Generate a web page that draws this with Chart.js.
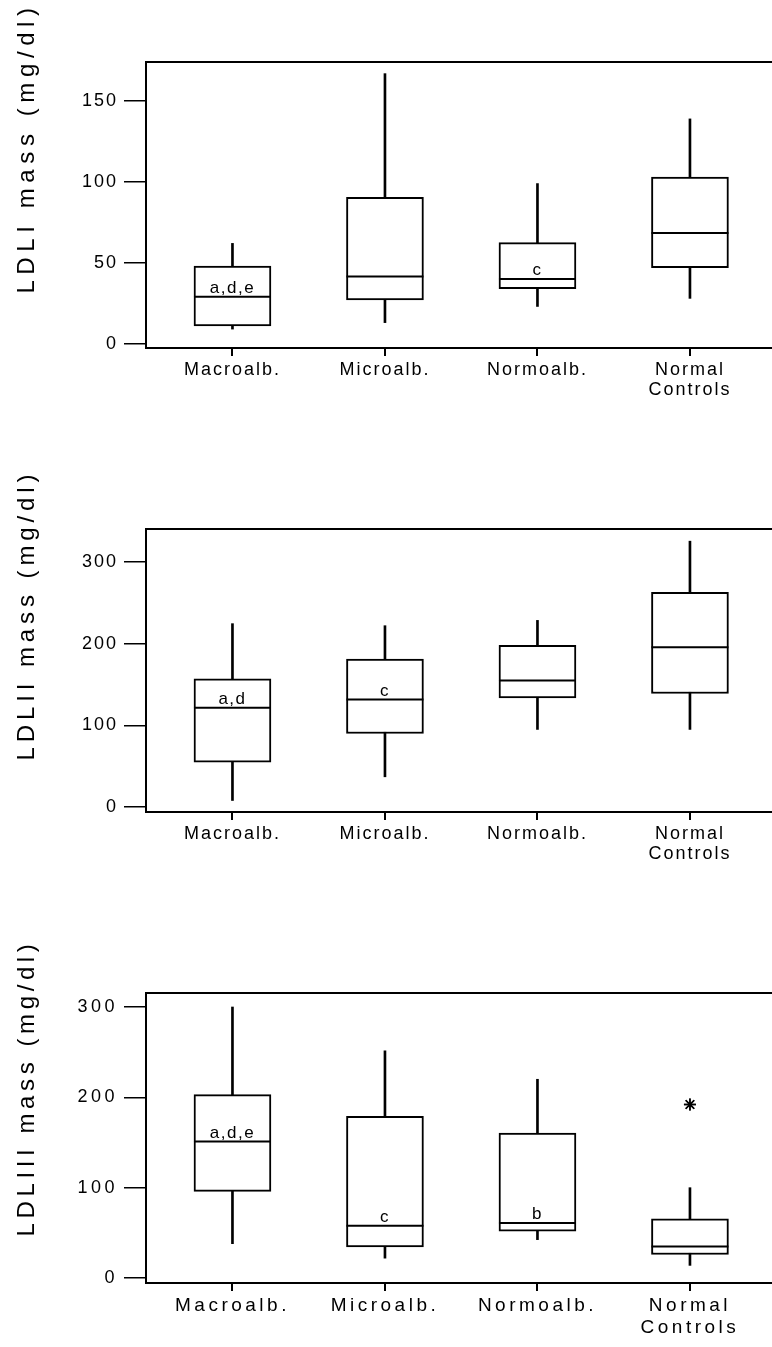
<!DOCTYPE html>
<html>
<head>
<meta charset="utf-8">
<script src="https://cdn.jsdelivr.net/npm/chart.js@4.4.1/dist/chart.umd.min.js"></script>
<style>
html,body{margin:0;padding:0;background:#fff;width:772px;height:1347px;overflow:hidden}
canvas{position:absolute;left:0;display:block}
</style>
</head>
<body>
<canvas id="c1" width="772" height="420" style="top:0px"></canvas>
<canvas id="c2" width="772" height="440" style="top:440px"></canvas>
<canvas id="c3" width="772" height="447" style="top:900px"></canvas>
<script>
// ---------- data ----------
const categories = ['Macroalb.', 'Microalb.', 'Normoalb.', ['Normal', 'Controls']];

const ldl1Min    = [9, 13, 23, 28];
const ldl1Q1     = [11, 27, 34, 47];
const ldl1Median = [29, 41.5, 40, 68.5];
const ldl1Q3     = [48, 90.5, 62.5, 103];
const ldl1Max    = [62, 167, 99, 139];
const ldl1Notes  = ['a,d,e', '', 'c', ''];
const ldl1Ticks  = [0, 50, 100, 150];

const ldl2Min    = [8, 37, 95, 95];
const ldl2Q1     = [55, 90, 133.5, 139];
const ldl2Median = [121.5, 131.5, 155, 195.5];
const ldl2Q3     = [157, 181, 198, 263];
const ldl2Max    = [224.5, 222, 228.5, 325.5];
const ldl2Notes  = ['a,d', 'c', '', ''];
const ldl2Ticks  = [0, 100, 200, 300];

const ldl3Min     = [38, 22, 42.5, 14];
const ldl3Q1      = [96, 34.5, 52, 26];
const ldl3Median  = [151, 58, 61, 35];
const ldl3Q3      = [203, 179, 160.5, 65.5];
const ldl3Max     = [300, 251.5, 220, 100];
const ldl3Notes   = ['a,d,e', 'c', 'b', ''];
const ldl3Outlier = [null, null, null, 192];
const ldl3Ticks   = [0, 100, 200, 300];

const yTitles = ['LDLI mass (mg/dl)', 'LDLII mass (mg/dl)', 'LDLIII mass (mg/dl)'];

// ---------- helpers ----------
const FONT = '"Liberation Sans", Arial, Helvetica, sans-serif';

function drawStar(ctx, x, y, r) {
  if (Chart.helpers && Chart.helpers.drawPoint) {
    Chart.helpers.drawPoint(ctx, {pointStyle: 'star', radius: r, borderWidth: 1.5, rotation: 0}, x, y);
    ctx.stroke();
    return;
  }
  ctx.beginPath();
  for (let k = 0; k < 4; k++) {
    const a = k * Math.PI / 4;
    ctx.moveTo(x - r * Math.cos(a), y - r * Math.sin(a));
    ctx.lineTo(x + r * Math.cos(a), y + r * Math.sin(a));
  }
  ctx.stroke();
}

function makePanel(id, o) {
  const xs = categories.map((_, i) => i);
  const boxData = xs.map(i => ({x: i, y: [o.q1[i], o.q3[i]]}));
  const whiskerData = xs.map(i => ({x: i, y: [o.min[i], o.max[i]]}));
  const datasets = [
    {type: 'bar', data: boxData, backgroundColor: '#fff', borderColor: '#000',
     borderWidth: 2, borderSkipped: false, barThickness: 77, grouped: false, order: 1},
    {type: 'bar', data: whiskerData, backgroundColor: '#000', borderWidth: 0,
     barThickness: 2, grouped: false, order: 2}
  ];

  const boxPlugin = {
    id: 'boxExtras',
    beforeLayout(chart) { chart.ctx.letterSpacing = o.tickSpacing; },
    beforeDraw(chart) { chart.ctx.letterSpacing = o.tickSpacing; },
    afterDatasetsDraw(chart) {
      const ctx = chart.ctx, ys = chart.scales.y, xsc = chart.scales.x;
      const meta = chart.getDatasetMeta(0);
      ctx.save();
      ctx.strokeStyle = '#000';
      ctx.fillStyle = '#000';
      meta.data.forEach((bar, i) => {
        const y = ys.getPixelForValue(o.median[i]);
        const half = bar.width / 2;
        ctx.lineWidth = 2;
        ctx.beginPath();
        ctx.moveTo(bar.x - half, y);
        ctx.lineTo(bar.x + half, y);
        ctx.stroke();
        if (o.notes[i]) {
          ctx.letterSpacing = '1.5px';
          ctx.font = '17px ' + FONT;
          ctx.textAlign = 'center';
          ctx.textBaseline = 'alphabetic';
          ctx.fillText(o.notes[i], bar.x, y - 4);
        }
      });
      if (o.outlier) {
        ctx.lineWidth = 1.5;
        o.outlier.forEach((v, i) => {
          if (v === null) return;
          drawStar(ctx, xsc.getPixelForValue(i), ys.getPixelForValue(v), 6);
        });
      }
      ctx.restore();
    },
    afterDraw(chart) {
      const ctx = chart.ctx, a = chart.chartArea;
      ctx.save();
      ctx.strokeStyle = '#000';
      ctx.lineWidth = 2;
      ctx.beginPath();
      ctx.moveTo(a.left - 1, a.top);
      ctx.lineTo(a.right, a.top);
      ctx.stroke();
      ctx.translate(o.titleX, o.titleY);
      ctx.rotate(-Math.PI / 2);
      ctx.letterSpacing = o.titleSpacing;
      ctx.font = '24px ' + FONT;
      ctx.fillStyle = '#000';
      ctx.textAlign = 'center';
      ctx.textBaseline = 'middle';
      ctx.fillText(o.title, 0, 0);
      ctx.restore();
    }
  };

  return new Chart(document.getElementById(id), {
    data: {datasets},
    options: {
      responsive: false,
      animation: false,
      events: [],
      layout: {padding: {top: o.areaTop, left: 0, right: 0, bottom: 0}},
      plugins: {legend: {display: false}, tooltip: {enabled: false}},
      scales: {
        x: {
          type: 'linear', min: -0.567, max: 3.538, offset: false,
          afterBuildTicks: s => { s.ticks = xs.map(v => ({value: v})); },
          afterFit: s => { s.height = o.xAxisHeight; },
          grid: {display: true, offset: false, drawOnChartArea: false, drawTicks: true, tickLength: 8,
                 color: '#000', lineWidth: 2},
          border: {display: true, color: '#000', width: 2},
          ticks: {color: '#000', autoSkip: false, maxRotation: 0, minRotation: 0, padding: 4,
                  font: {family: FONT, size: o.catSize, lineHeight: o.catLine},
                  callback: v => categories[v]}
        },
        y: {
          type: 'linear', min: o.yMin, max: o.yMax,
          afterBuildTicks: s => { s.ticks = o.ticks.map(v => ({value: v})); },
          afterFit: s => { s.width = 146; },
          grid: {display: true, drawOnChartArea: false, drawTicks: true, tickLength: 22,
                 color: '#000', lineWidth: 1.5},
          border: {display: true, color: '#000', width: 2},
          ticks: {color: '#000', padding: 6, font: {family: FONT, size: 18}}
        }
      }
    },
    plugins: [boxPlugin]
  });
}

makePanel('c1', {
  min: ldl1Min, q1: ldl1Q1, median: ldl1Median, q3: ldl1Q3, max: ldl1Max, notes: ldl1Notes,
  ticks: ldl1Ticks, yMin: -2.7, yMax: 174.2, areaTop: 62, xAxisHeight: 72,
  catSize: 18, catLine: 1.1,
  title: yTitles[0], titleX: 27, titleY: 148, titleSpacing: '5.6px', tickSpacing: '2px'
});
makePanel('c2', {
  min: ldl2Min, q1: ldl2Q1, median: ldl2Median, q3: ldl2Q3, max: ldl2Max, notes: ldl2Notes,
  ticks: ldl2Ticks, yMin: -6.1, yMax: 340.4, areaTop: 89, xAxisHeight: 68,
  catSize: 18, catLine: 1.1,
  title: yTitles[1], titleX: 27, titleY: 175, titleSpacing: '4.9px', tickSpacing: '2px'
});
makePanel('c3', {
  min: ldl3Min, q1: ldl3Q1, median: ldl3Median, q3: ldl3Q3, max: ldl3Max, notes: ldl3Notes,
  outlier: ldl3Outlier,
  ticks: ldl3Ticks, yMin: -5.5, yMax: 315.5, areaTop: 93, xAxisHeight: 64,
  catSize: 19, catLine: 1.15,
  title: yTitles[2], titleX: 27, titleY: 188, titleSpacing: '4.6px', tickSpacing: '3.5px'
});
</script>
</body>
</html>
